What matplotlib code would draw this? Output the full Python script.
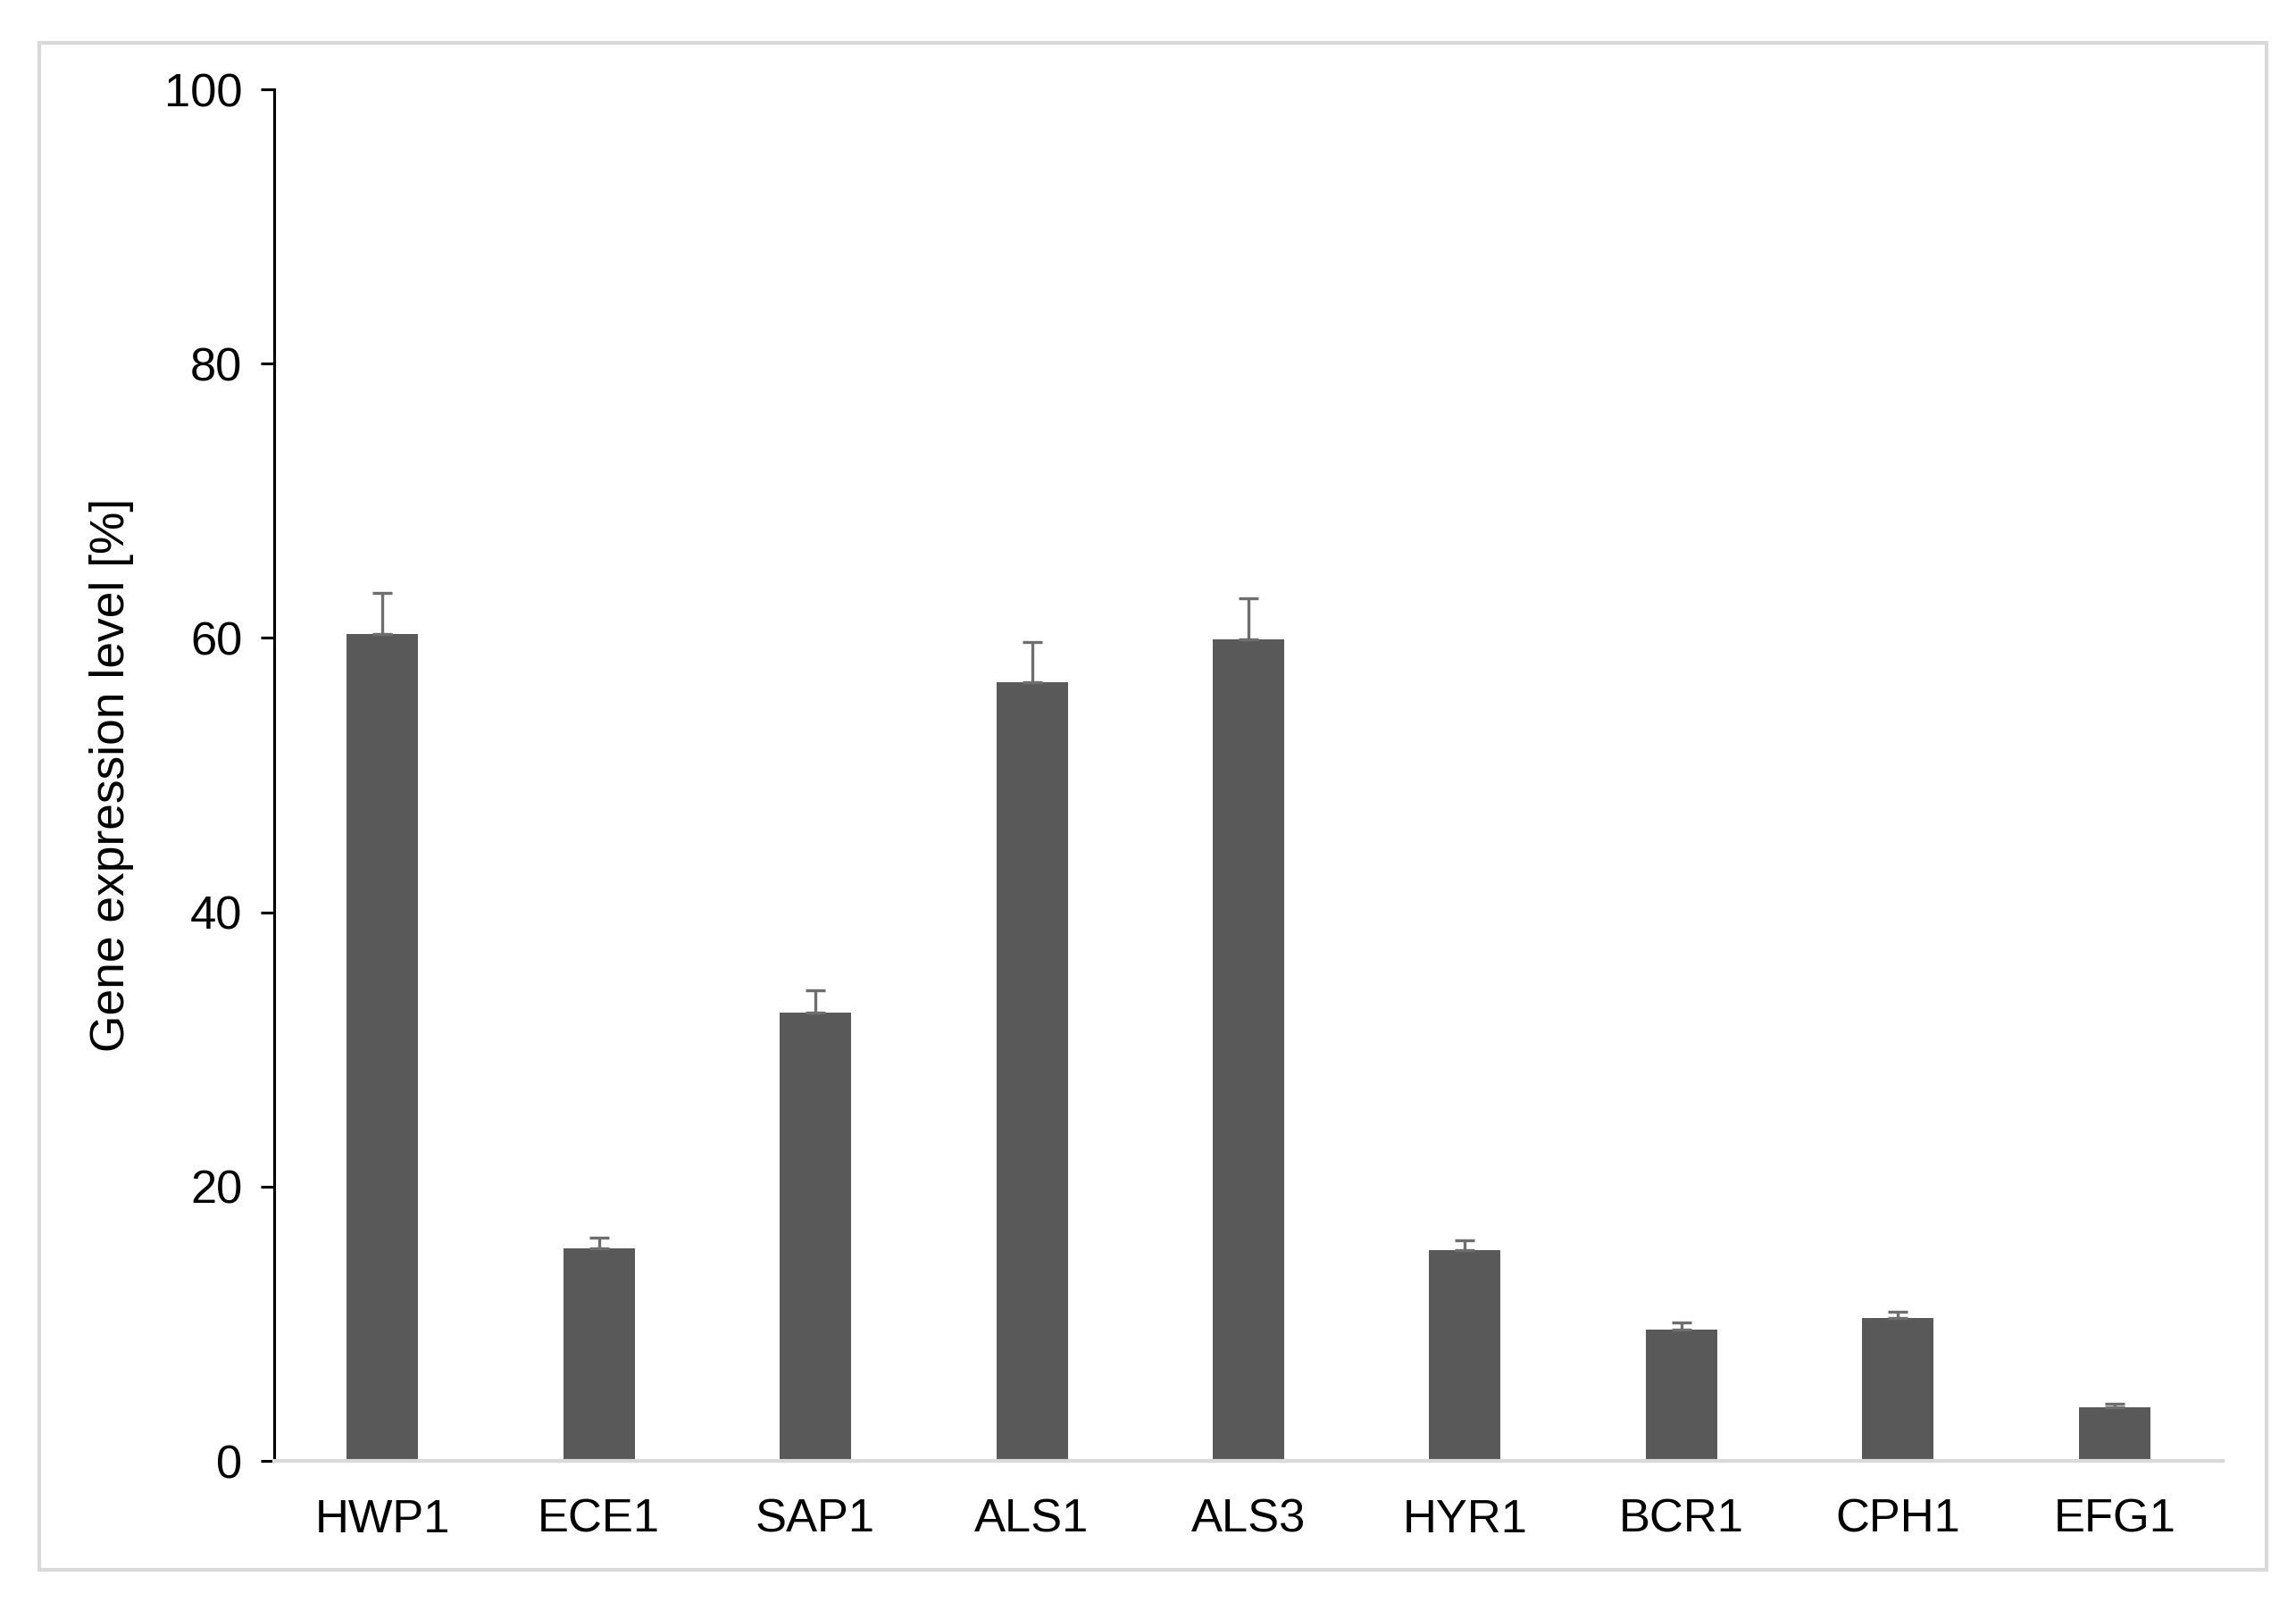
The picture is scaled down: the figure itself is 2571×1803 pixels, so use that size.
import matplotlib.pyplot as plt
from matplotlib.patches import Rectangle

plt.rcParams['font.family'] = ['Liberation Sans', 'DejaVu Sans']

genes = ["HWP1", "ECE1", "SAP1", "ALS1", "ALS3", "HYR1", "BCR1", "CPH1", "EFG1"]
expression = [60.3, 15.5, 32.7, 56.8, 59.9, 15.4, 9.6, 10.4, 3.9]
errors = [3.0, 0.8, 1.6, 2.9, 3.0, 0.7, 0.5, 0.5, 0.25]
yticks = [0, 20, 40, 60, 80, 100]

fig = plt.figure(figsize=(2571 / 300, 1803 / 300), dpi=300)
ax = fig.add_axes([0.1194, 0.0926, 0.8487, 0.8519])

# light grey frame round the whole chart
fig.patches.append(Rectangle((0.0171, 0.025), 0.9701, 0.9484, transform=fig.transFigure,
                             fill=False, edgecolor="#d9d9d9", linewidth=1.0))

x = range(len(genes))
ax.bar(x, expression, width=0.33, color="#595959", zorder=2)
ax.errorbar(x, expression, yerr=[[0] * len(errors), errors], fmt="none",
            ecolor="#6e6e6e", elinewidth=0.8, capsize=2.6, capthick=0.8, zorder=3)

ax.set_xlim(-0.5, len(genes) - 0.5)
ax.set_ylim(0, 100)
ax.set_yticks(yticks)
ax.set_xticks(list(x))
ax.set_xticklabels(genes)
ax.tick_params(axis="y", direction="out", length=3.6, width=0.75, labelsize=12.6, pad=5)
ax.tick_params(axis="x", length=0, labelsize=12.6, pad=10)
ax.set_ylabel("Gene expression level [%]", fontsize=12.8, labelpad=8)

ax.spines["top"].set_visible(False)
ax.spines["right"].set_visible(False)
ax.spines["left"].set_linewidth(0.75)
ax.spines["left"].set_color("black")
ax.spines["bottom"].set_color("#d9d9d9")
ax.spines["bottom"].set_linewidth(1.0)

fig.savefig("out.png", dpi=300)
